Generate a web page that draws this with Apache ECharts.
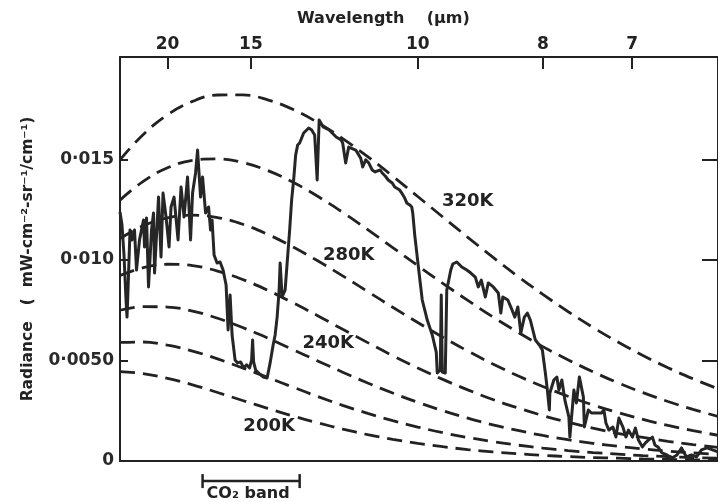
<!DOCTYPE html>
<html>
<head>
<meta charset="utf-8">
<script src="https://cdn.jsdelivr.net/npm/echarts@6/dist/echarts.min.js"></script>
<style>
  html, body { margin: 0; padding: 0; background: #fff; }
  #chart { width: 718px; height: 502px; }
</style>
</head>
<body>
<div id="chart"></div>
<script>
// Wavenumber grid (cm^-1) for the blackbody reference curves
const planckWavenumber = [405,450,500,550,600,650,700,750,800,850,900,950,1000,1050,1100,1150,1200,1250,1300,1350,1400,1450,1500,1550,1600];

// Blackbody radiance (mW cm^-2 sr^-1 / cm^-1) for each temperature
const radiance320K = [0.01498,0.01621,0.01723,0.01789,0.01821,0.01822,0.01797,0.01750,0.01684,0.01604,0.01514,0.01417,0.01316,0.01214,0.01113,0.01014,0.00919,0.00829,0.00744,0.00665,0.00592,0.00525,0.00464,0.00409,0.00359];
const radiance300K = [0.01298,0.01389,0.01459,0.01496,0.01503,0.01485,0.01445,0.01388,0.01317,0.01237,0.01151,0.01062,0.00972,0.00884,0.00799,0.00717,0.00641,0.00569,0.00504,0.00444,0.00389,0.00340,0.00296,0.00257,0.00222];
const radiance280K = [0.01106,0.01169,0.01210,0.01223,0.01211,0.01178,0.01128,0.01066,0.00996,0.00921,0.00843,0.00765,0.00689,0.00616,0.00547,0.00483,0.00424,0.00371,0.00322,0.00279,0.00241,0.00207,0.00177,0.00151,0.00128];
const radiance260K = [0.00923,0.00961,0.00979,0.00972,0.00945,0.00903,0.00850,0.00788,0.00723,0.00655,0.00589,0.00524,0.00463,0.00406,0.00354,0.00306,0.00264,0.00226,0.00193,0.00164,0.00138,0.00117,0.00098,0.00082,0.00068];
const radiance240K = [0.00750,0.00768,0.00766,0.00746,0.00710,0.00664,0.00612,0.00555,0.00498,0.00442,0.00388,0.00338,0.00292,0.00250,0.00213,0.00180,0.00152,0.00127,0.00106,0.00088,0.00073,0.00060,0.00049,0.00040,0.00033];
const radiance220K = [0.00590,0.00592,0.00576,0.00547,0.00508,0.00463,0.00416,0.00368,0.00321,0.00277,0.00237,0.00201,0.00169,0.00141,0.00117,0.00096,0.00079,0.00064,0.00052,0.00042,0.00034,0.00027,0.00022,0.00017,0.00014];
const radiance200K = [0.00445,0.00435,0.00411,0.00379,0.00341,0.00301,0.00262,0.00224,0.00190,0.00159,0.00131,0.00108,0.00088,0.00071,0.00057,0.00045,0.00036,0.00028,0.00022,0.00017,0.00014,0.00010,0.00008,0.00006,0.00005];
const blackbodyCurves = [radiance320K, radiance300K, radiance280K, radiance260K, radiance240K, radiance220K, radiance200K];

// Measured emission spectrum
const spectrumWavenumber = [405,409,413,417,419,421,425,429,434,438,444,452,454,458,462,468,472,474,482,487,491,497,503,507,513,521,527,533,540,546,550,556,560,566,570,576,582,586,589,593,599,605,611,617,621,625,629,635,640,646,652,658,664,668,670,672,676,684,691,699,705,711,715,719,723,725,729,735,741,744,748,752,756,760,764,772,782,788,794,799,803,811,823,837,847,850,856,862,876,886,890,896,902,909,915,925,929,935,941,949,954,964,968,974,978,984,988,990,994,1002,1009,1019,1029,1037,1039,1045,1047,1049,1055,1058,1066,1070,1078,1088,1098,1106,1115,1121,1127,1135,1141,1151,1161,1166,1170,1180,1186,1194,1200,1206,1213,1219,1225,1235,1243,1249,1255,1259,1263,1264,1272,1278,1282,1288,1294,1302,1304,1312,1317,1323,1331,1333,1341,1347,1357,1367,1372,1376,1382,1390,1396,1402,1410,1416,1421,1429,1435,1441,1449,1455,1461,1469,1474,1480,1488,1498,1508,1518,1527,1537,1547,1557,1567,1578,1600];
const spectrumRadiance = [0.01239,0.01174,0.01025,0.00801,0.00716,0.00851,0.01149,0.01100,0.01149,0.00950,
  0.01100,0.01199,0.01065,0.01209,0.00866,0.01149,0.01234,0.00935,0.01313,0.01015,
  0.01333,0.01214,0.01065,0.01264,0.01313,0.01100,0.01363,0.01214,0.01413,0.01100,
  0.01333,0.01433,0.01547,0.01313,0.01413,0.01234,0.01264,0.01149,0.01199,0.01025,
  0.00985,0.00990,0.00950,0.00876,0.00652,0.00826,0.00627,0.00502,0.00488,0.00493,
  0.00463,0.00478,0.00463,0.00502,0.00602,0.00493,0.00453,0.00433,0.00418,0.00413,
  0.00488,0.00577,0.00627,0.00716,0.00851,0.00985,0.00816,0.00851,0.01050,0.01149,
  0.01299,0.01398,0.01522,0.01572,0.01582,0.01632,0.01657,0.01647,0.01622,0.01398,
  0.01697,0.01662,0.01647,0.01612,0.01597,0.01582,0.01483,0.01562,0.01547,0.01507,
  0.01463,0.01498,0.01483,0.01448,0.01438,0.01448,0.01433,0.01418,0.01398,0.01383,
  0.01363,0.01348,0.01333,0.01308,0.01284,0.01274,0.01264,0.01234,0.01124,0.00950,
  0.00801,0.00701,0.00627,0.00542,0.00438,0.00453,0.00826,0.00443,0.00438,0.00851,
  0.00950,0.00980,0.00990,0.00965,0.00950,0.00935,0.00915,0.00866,0.00900,0.00816,
  0.00886,0.00866,0.00836,0.00736,0.00816,0.00801,0.00766,0.00716,0.00766,0.00637,
  0.00716,0.00736,0.00701,0.00602,0.00577,0.00552,0.00438,0.00353,0.00254,0.00338,
  0.00403,0.00418,0.00353,0.00403,0.00303,0.00219,0.00119,0.00353,0.00289,0.00418,
  0.00318,0.00169,0.00254,0.00239,0.00239,0.00239,0.00254,0.00189,0.00154,0.00169,
  0.00119,0.00214,0.00169,0.00119,0.00154,0.00119,0.00164,0.00104,0.00070,0.00090,
  0.00104,0.00119,0.00080,0.00070,0.00040,0.00030,0.00015,0.00030,0.00065,0.00020,
  0.00030,0.00020,0.00055,0.00065,0.00045];

// Axis ticks
const wavelengthTicks = [20, 15, 10, 8, 7];           // micrometres, top scale
const radianceTicks = [0, 0.005, 0.010, 0.015];
const radianceTickLabels = ['0', '0·0050', '0·010', '0·015'];
const curveLabels = ['320K', '280K', '240K', '200K'];
const co2BandRange = [570, 764];                      // cm^-1

const FONT = 'DejaVu Sans';
const INK = '#222';

const topTickValues = wavelengthTicks.map(l => 1e4 / l);
function nearestIndex(arr, v) {
  let best = 0;
  arr.forEach((a, i) => { if (Math.abs(a - v) < Math.abs(arr[best] - v)) best = i; });
  return best;
}

const chart = echarts.init(document.getElementById('chart'), null, { renderer: 'canvas' });

const dashedSeries = blackbodyCurves.map(curve => ({
  type: 'line',
  data: planckWavenumber.map((w, i) => [w, curve[i]]),
  smooth: 0.4,
  showSymbol: false,
  silent: true,
  lineStyle: { color: INK, width: 2.8, type: [15, 8] },
  z: 2
}));

const option = {
  animation: false,
  backgroundColor: '#fff',
  title: {
    text: 'Wavelength    (μm)',
    left: 292, top: 6,
    textStyle: { fontFamily: FONT, fontWeight: 'bold', fontSize: 16, color: INK }
  },
  grid: { left: 120, right: -11, top: 57, bottom: 41 },
  xAxis: [
    {
      type: 'value', min: 405, max: 1600, position: 'bottom',
      axisLine: { show: true, onZero: false, lineStyle: { color: INK, width: 2 } },
      axisTick: { show: false }, axisLabel: { show: false }, splitLine: { show: false }
    },
    {
      type: 'value', min: 405, max: 1600, position: 'top',
      axisLine: { show: true, onZero: false, lineStyle: { color: INK, width: 2 } },
      axisTick: { show: true, inside: true, length: 12, customValues: topTickValues, lineStyle: { color: INK, width: 2 } },
      axisLabel: {
        customValues: topTickValues,
        formatter: v => String(wavelengthTicks[nearestIndex(topTickValues, v)]),
        fontFamily: FONT, fontWeight: 'bold', fontSize: 17, color: INK, margin: 4
      },
      splitLine: { show: false }
    }
  ],
  yAxis: [
    {
      type: 'value', min: 0, max: 0.0201, position: 'left',
      axisLine: { show: true, onZero: false, lineStyle: { color: INK, width: 2 } },
      axisTick: { show: true, inside: true, length: 8, customValues: radianceTicks, lineStyle: { color: INK, width: 2 } },
      axisLabel: {
        customValues: radianceTicks,
        formatter: v => radianceTickLabels[nearestIndex(radianceTicks, v)],
        fontFamily: FONT, fontWeight: 'bold', fontSize: 17, color: '#2a2a2a', margin: 6
      },
      splitLine: { show: false },
      name: 'Radiance   (  mW-cm⁻²-sr⁻¹/cm⁻¹)',
      nameLocation: 'middle', nameRotate: 90, nameGap: 84,
      nameTextStyle: { fontFamily: FONT, fontWeight: 'bold', fontSize: 15.5, color: INK }
    },
    {
      type: 'value', min: 0, max: 0.0201, position: 'right',
      axisLine: { show: true, onZero: false, lineStyle: { color: INK, width: 2 } },
      axisTick: { show: true, inside: true, length: 16, customValues: radianceTicks, lineStyle: { color: INK, width: 2 } },
      axisLabel: { show: false }, splitLine: { show: false }
    }
  ],
  series: [
    ...dashedSeries,
    {
      type: 'line',
      data: spectrumWavenumber.map((w, i) => [w, spectrumRadiance[i]]),
      showSymbol: false,
      silent: true,
      lineStyle: { color: '#262626', width: 3, join: 'round' },
      z: 4
    },
    {
      // temperature annotations on the blackbody curves
      type: 'custom',
      silent: true,
      clip: false,
      data: [[1100, 0.01294, 0], [862, 0.01025, 1], [821, 0.00587, 2], [703, 0.00174, 3]],
      renderItem: (params, api) => {
        const p = api.coord([api.value(0), api.value(1)]);
        return {
          type: 'text',
          style: {
            text: curveLabels[api.value(2)], x: p[0], y: p[1],
            align: 'center', verticalAlign: 'middle',
            font: 'bold 18px "' + FONT + '"', fill: INK
          }
        };
      },
      z: 5
    },
    {
      // CO2 absorption band marker below the axis
      type: 'custom',
      silent: true,
      clip: false,
      data: [[co2BandRange[0], co2BandRange[1]]],
      renderItem: (params, api) => {
        const a = api.coord([api.value(0), -0.001]);
        const b = api.coord([api.value(1), -0.001]);
        const st = { stroke: INK, lineWidth: 2.5 };
        return {
          type: 'group',
          children: [
            { type: 'line', shape: { x1: a[0], y1: a[1], x2: b[0], y2: b[1] }, style: st },
            { type: 'line', shape: { x1: a[0], y1: a[1] - 7, x2: a[0], y2: a[1] + 7 }, style: st },
            { type: 'line', shape: { x1: b[0], y1: b[1] - 7, x2: b[0], y2: b[1] + 7 }, style: st },
            { type: 'text', style: { text: 'CO₂ band', x: (a[0] + b[0]) / 2 - 3, y: a[1] + 5,
              align: 'center', verticalAlign: 'top', font: 'bold 16px "' + FONT + '"', fill: INK } }
          ]
        };
      },
      z: 5
    }
  ]
};

chart.setOption(option);
</script>
</body>
</html>
